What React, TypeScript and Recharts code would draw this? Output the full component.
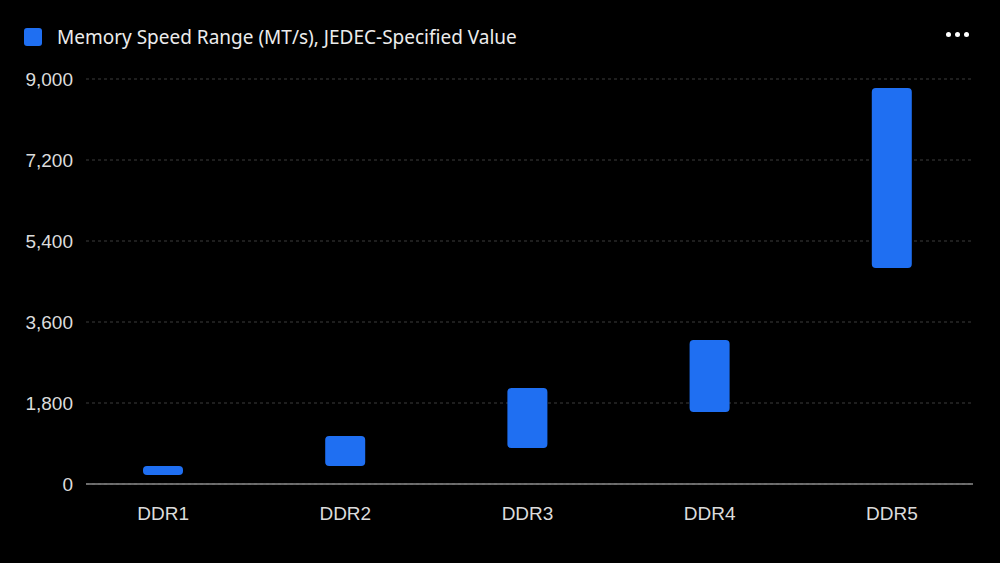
import React from "react";
import { BarChart, Bar, XAxis, YAxis, CartesianGrid } from "recharts";

const categories = ["DDR1", "DDR2", "DDR3", "DDR4", "DDR5"];
const minSpeed = [200, 400, 800, 1600, 4800];
const maxSpeed = [400, 1066, 2133, 3200, 8800];
const yTicks = [0, 1800, 3600, 5400, 7200, 9000];
const seriesName = "Memory Speed Range (MT/s), JEDEC-Specified Value";

const data = categories.map((c, i) => ({ name: c, range: [minSpeed[i], maxSpeed[i]] }));

const BLUE = "#1f6ff2";
const TICK_FONT = "'Liberation Sans', Arial, sans-serif";

export default function App() {
  return (
    <div style={{ position: "fixed", left: 0, top: 0, width: 1000, height: 563, background: "#000", overflow: "hidden" }}>
      <div
        style={{
          position: "absolute",
          left: 24,
          top: 24,
          display: "flex",
          alignItems: "center",
          fontFamily: "'Noto Sans', sans-serif",
          fontSize: 19,
          color: "#ececec",
          whiteSpace: "nowrap",
        }}
      >
        <span style={{ display: "inline-block", width: 18, height: 18, borderRadius: 3, background: BLUE, marginRight: 15 }} />
        <span>{seriesName}</span>
      </div>
      <BarChart
        width={1000}
        height={563}
        data={data}
        margin={{ top: 79, right: 27, left: 0, bottom: 0 }}
      >
        <CartesianGrid horizontal vertical={false} stroke="#3c3c3c" strokeDasharray="3 3" />
        <XAxis
          dataKey="name"
          height={79}
          tickSize={0}
          tickMargin={23}
          axisLine={{ stroke: "#8a8a8a", strokeWidth: 1.5 }}
          tickLine={false}
          padding={{ left: -14, right: -10 }}
          tick={{ fill: "#dcdcdc", fontSize: 19, fontFamily: TICK_FONT }}
        />
        <YAxis
          width={86}
          domain={[0, 9000]}
          ticks={yTicks}
          tickSize={0}
          tickMargin={13}
          axisLine={false}
          tickLine={false}
          tickFormatter={(v: number) => v.toLocaleString("en-US")}
          tick={{ fill: "#dcdcdc", fontSize: 19, fontFamily: TICK_FONT }}
        />
        <Bar dataKey="range" name={seriesName} fill={BLUE} barSize={40} radius={4} isAnimationActive={false} />
      </BarChart>
      <div style={{ position: "absolute", left: 946, top: 32, display: "flex", gap: 4 }}>
        {[0, 1, 2].map((i) => (
          <span key={i} style={{ width: 5, height: 5, borderRadius: "50%", background: "#fff", display: "inline-block" }} />
        ))}
      </div>
    </div>
  );
}
